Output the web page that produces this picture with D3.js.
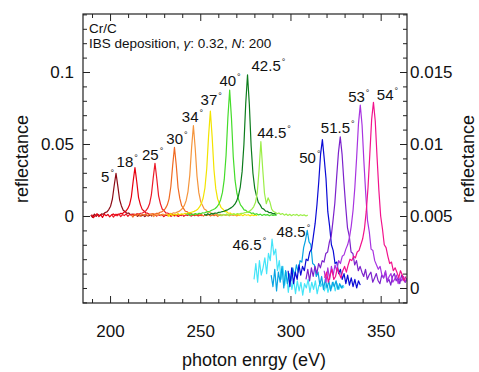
<!DOCTYPE html>
<html>
<head>
<meta charset="utf-8">
<script src="https://cdn.jsdelivr.net/npm/d3@7"></script>
<style>
  html, body { margin: 0; padding: 0; background: #fff; }
  svg { display: block; font-family: "Liberation Sans", Arial, Helvetica, sans-serif; }
</style>
</head>
<body>
<svg id="chart" width="479" height="372"></svg>
<script>
// ---------------- data ----------------
const angleLabels = ["5", "18", "25", "30", "34", "37", "40", "42.5", "44.5",
                     "46.5", "48.5", "50", "51.5", "53", "54"];
const axisSide = ["L","L","L","L","L","L","L","L","L","R","R","R","R","R","R"];
// photon energy (eV) of the first sample of every spectrum; samples every 1 eV
const startEnergy = [189.3, 189.8, 200.9, 211.7, 222.2, 231.6, 242.3, 252.2, 259.6,
                     279.8, 289.3, 298.7, 308.6, 318.7, 319.0];
const energyStep = 1;

const r05 = [0.0006,-0.0009,0.0013,-0.0003,0.0011,0.0002,0.0015,0.0012,0.0024,0.0029,0.0045,0.0068,0.0118,0.0212,0.0297,0.0208,0.0113,0.0070,0.0040,0.0031,0.0018,0.0021,0.0009,0.0013,0.0004,0.0010,-0.0002,0.0008,0.0001,0.0007,-0.0004,0.0006,0.0000,0.0009,-0.0003];
const r18 = [0.0010,-0.0012,0.0004,0.0016,-0.0005,0.0009,-0.0010,0.0013,0.0002,0.0011,-0.0006,0.0008,0.0014,0.0003,0.0012,0.0009,0.0018,0.0016,0.0027,0.0034,0.0051,0.0078,0.0133,0.0240,0.0336,0.0238,0.0128,0.0079,0.0046,0.0035,0.0021,0.0020,0.0011,0.0014,0.0006,0.0011,-0.0001,0.0009,0.0003,0.0010,-0.0004,0.0007,0.0002,0.0010,-0.0002,0.0006,0.0001,0.0008,-0.0003,0.0005,0.0002];
const r25 = [0.0007,-0.0008,0.0012,0.0001,0.0014,-0.0004,0.0010,0.0003,0.0015,-0.0002,0.0011,0.0006,0.0013,0.0008,0.0016,0.0012,0.0019,0.0021,0.0028,0.0037,0.0054,0.0085,0.0146,0.0261,0.0366,0.0259,0.0140,0.0086,0.0049,0.0038,0.0022,0.0021,0.0012,0.0015,0.0007,0.0012,0.0002,0.0010,0.0004,0.0011,-0.0002,0.0008,0.0003,0.0009,-0.0001,0.0007,0.0002,0.0009,0.0000,0.0006,0.0003];
const r30 = [0.0009,-0.0007,0.0013,0.0002,0.0015,-0.0003,0.0011,0.0005,0.0014,0.0001,0.0012,0.0008,0.0017,0.0011,0.0019,0.0018,0.0026,0.0029,0.0038,0.0053,0.0076,0.0119,0.0205,0.0350,0.0477,0.0352,0.0196,0.0120,0.0071,0.0053,0.0033,0.0030,0.0018,0.0019,0.0010,0.0014,0.0004,0.0012,0.0005,0.0011,-0.0001,0.0009,0.0003,0.0010,0.0000,0.0008,0.0002,0.0009,-0.0002,0.0007,0.0003];
const r34 = [0.0006,0.0013,-0.0004,0.0012,0.0003,0.0016,0.0002,0.0013,0.0007,0.0015,0.0009,0.0018,0.0015,0.0022,0.0021,0.0027,0.0032,0.0041,0.0054,0.0074,0.0108,0.0170,0.0284,0.0475,0.0627,0.0470,0.0276,0.0162,0.0101,0.0075,0.0049,0.0041,0.0027,0.0026,0.0016,0.0019,0.0010,0.0014,0.0006,0.0012,0.0003,0.0010,0.0004,0.0011,0.0001,0.0009,0.0003,0.0008,0.0000,0.0007,0.0002];
const r37 = [0.0011,-0.0002,0.0014,0.0004,0.0012,0.0006,0.0017,0.0009,0.0015,0.0012,0.0019,0.0016,0.0023,0.0024,0.0028,0.0032,0.0038,0.0047,0.0063,0.0086,0.0125,0.0196,0.0330,0.0553,0.0729,0.0548,0.0321,0.0190,0.0119,0.0087,0.0058,0.0047,0.0031,0.0030,0.0019,0.0021,0.0011,0.0015,0.0006,0.0013,0.0004,0.0011,0.0002,0.0010,0.0005,0.0009,0.0001,0.0008,0.0003,0.0007,0.0002];
const r40 = [0.0008,0.0015,0.0003,0.0014,0.0007,0.0017,0.0011,0.0019,0.0016,0.0022,0.0021,0.0027,0.0030,0.0033,0.0040,0.0045,0.0052,0.0064,0.0083,0.0113,0.0164,0.0254,0.0420,0.0681,0.0875,0.0678,0.0410,0.0247,0.0158,0.0112,0.0077,0.0062,0.0043,0.0039,0.0027,0.0028,0.0018,0.0021,0.0011,0.0016,0.0007,0.0013,0.0004,0.0011,0.0006,0.0010,0.0002,0.0009,0.0004,0.0008,0.0003];
const r42 = [0.0012,0.0005,0.0016,0.0009,0.0018,0.0013,0.0021,0.0019,0.0025,0.0026,0.0031,0.0033,0.0039,0.0043,0.0051,0.0058,0.0068,0.0082,0.0105,0.0142,0.0203,0.0308,0.0497,0.0780,0.0981,0.0776,0.0486,0.0297,0.0192,0.0138,0.0094,0.0077,0.0054,0.0048,0.0034,0.0033,0.0023,0.0024,0.0015,0.0018,0.0010];
const r44 = [0.0004,0.0013,0.0002,0.0011,0.0006,0.0014,0.0003,0.0012,0.0008,0.0015,0.0010,0.0017,0.0014,0.0019,0.0018,0.0023,0.0025,0.0030,0.0036,0.0047,0.0064,0.0093,0.0161,0.0320,0.0516,0.0330,0.0158,0.0085,0.0126,0.0098,0.0048,0.0031,0.0026,0.0016,0.0021,0.0011,0.0017,0.0006,0.0014,0.0004,0.0012,0.0002,0.0010,0.0005,0.0011,0.0001,0.0009,0.0003,0.0008,0.0000,0.0006];
const r46 = [0.0006,0.0017,0.0004,0.0019,0.0009,0.0014,0.0021,0.0010,0.0024,0.0019,0.0034,0.0023,0.0027,0.0012,0.0019,0.0006,0.0015,0.0002,0.0011,-0.0003,0.0008,-0.0001,0.0006,-0.0004,0.0005,-0.0002,0.0004,-0.0005,0.0003,0.0000,0.0006,-0.0003,0.0004,-0.0001,0.0005,-0.0004,0.0002,0.0001,0.0004,-0.0002,0.0003,-0.0003,0.0002,0.0000,0.0004,-0.0002,0.0003,-0.0001,0.0002,0.0000,0.0001];
const r48 = [0.0009,0.0001,0.0013,-0.0002,0.0011,0.0004,0.0015,0.0000,0.0012,0.0003,0.0010,0.0005,0.0014,0.0008,0.0016,0.0011,0.0019,0.0018,0.0028,0.0033,0.0040,0.0032,0.0030,0.0017,0.0016,0.0008,0.0011,0.0002,0.0008,-0.0001,0.0006,0.0000,0.0005,-0.0002,0.0004,0.0001,0.0005,-0.0001,0.0003,0.0000,0.0002];
const r50 = [0.0012,0.0001,0.0014,0.0003,0.0011,0.0006,0.0016,0.0009,0.0015,0.0012,0.0020,0.0019,0.0025,0.0027,0.0036,0.0045,0.0058,0.0074,0.0093,0.0103,0.0090,0.0076,0.0053,0.0043,0.0030,0.0026,0.0017,0.0018,0.0010,0.0013,0.0006,0.0010,0.0003,0.0009,0.0002,0.0007,0.0001,0.0006,0.0000,0.0005,0.0002];
const r51 = [0.0006,0.0013,0.0005,0.0014,0.0008,0.0015,0.0010,0.0017,0.0014,0.0019,0.0018,0.0024,0.0025,0.0032,0.0036,0.0047,0.0059,0.0077,0.0094,0.0105,0.0093,0.0074,0.0057,0.0042,0.0036,0.0025,0.0024,0.0016,0.0019,0.0012,0.0015,0.0011,0.0008,0.0013,0.0006,0.0009,0.0011,0.0004,0.0007,0.0010,0.0005,0.0003,0.0009,0.0007,0.0011,0.0004,0.0006,0.0002,0.0008,0.0010,0.0005,0.0007,0.0003,0.0009,0.0006,0.0004,0.0007];
const r53 = [0.0012,0.0004,0.0014,0.0006,0.0015,0.0009,0.0016,0.0012,0.0019,0.0017,0.0022,0.0023,0.0027,0.0030,0.0035,0.0043,0.0054,0.0070,0.0091,0.0114,0.0127,0.0113,0.0088,0.0066,0.0047,0.0039,0.0027,0.0026,0.0019,0.0016,0.0013,0.0015,0.0009,0.0007,0.0012,0.0005,0.0008,0.0010,0.0004,0.0006,0.0009,0.0003,0.0007,0.0005,0.0008,0.0004,0.0006];
const r54 = [0.0007,0.0011,0.0004,0.0009,0.0013,0.0006,0.0008,0.0014,0.0010,0.0007,0.0012,0.0015,0.0011,0.0016,0.0020,0.0019,0.0022,0.0021,0.0025,0.0026,0.0030,0.0034,0.0041,0.0053,0.0070,0.0093,0.0117,0.0129,0.0116,0.0091,0.0068,0.0050,0.0041,0.0030,0.0028,0.0022,0.0017,0.0018,0.0012,0.0014,0.0011,0.0007,0.0012,0.0009,0.0005,0.0008];
const seriesValues = [r05, r18, r25, r30, r34, r37, r40, r42, r44, r46, r48, r50, r51, r53, r54];

// label anchor points in data units (energy, reflectance on the series' own axis)
const labelEnergy = [198.6, 209.5, 223.6, 237.1, 245.7, 256.1, 266.5, 287.8, 290.9,
                     277.2, 301.6, 310.8, 326.2, 337.9, 353.8];
const labelValue  = [0.0269, 0.0377, 0.0424, 0.0535, 0.0690, 0.0806, 0.0940, 0.1042, 0.0578,
                     0.00299, 0.00391, 0.00901, 0.01109, 0.01328, 0.01340];

const xMajorTicks = [200, 250, 300, 350];
const xMinorTicks = [190, 210, 220, 230, 240, 260, 270, 280, 290, 310, 320, 330, 340, 360];
const yLeftMajorTicks = [0, 0.05, 0.1];
const yLeftMinorTicks = [-0.06,-0.05,-0.04,-0.03,-0.02,-0.01,0.01,0.02,0.03,0.04,0.06,0.07,0.08,0.09,0.11,0.12,0.13,0.14];
const yRightMajorTicks = [0, 0.005, 0.01, 0.015];
const yRightMinorTicks = [-0.001,0.001,0.002,0.003,0.004,0.006,0.007,0.008,0.009,0.011,0.012,0.013,0.014,0.016,0.017,0.018,0.019];

const xTitle = "photon enrgy (eV)";
const yTitle = "reflectance";

// ---------------- styles ----------------
const seriesColors = ["#8c0a14", "#e6000f", "#ec1a28", "#f06a22", "#f5953c", "#f2e400",
                      "#44dc2a", "#0c7c1c", "#9cee48",
                      "#44e4f8", "#08a4e2", "#0a0ad6", "#7c22cc", "#a834e0", "#f2128c"];

// ---------------- layout ----------------
const plot = {left: 83, right: 407, top: 14, bottom: 303};
const svg = d3.select("#chart");

const x = d3.scaleLinear().domain([185, 364.6]).range([plot.left, plot.right]);
const yL = d3.scaleLinear().domain([-0.06042, 0.14028]).range([plot.bottom, plot.top]);
const yR = d3.scaleLinear().domain([-0.0010417, 0.019028]).range([plot.bottom, plot.top]);

svg.append("defs").append("clipPath").attr("id", "clip")
  .append("rect").attr("x", plot.left).attr("y", plot.top)
  .attr("width", plot.right - plot.left).attr("height", plot.bottom - plot.top);

// ---------------- series ----------------
const gLines = svg.append("g").attr("clip-path", "url(#clip)");
seriesValues.forEach((vals, s) => {
  const ys = axisSide[s] === "L" ? yL : yR;
  const pts = vals.map((v, i) => [startEnergy[s] + i * energyStep, v]);
  const line = d3.line().x(d => x(d[0])).y(d => ys(d[1]));
  gLines.append("path").datum(pts)
    .attr("d", line)
    .attr("fill", "none")
    .attr("stroke", seriesColors[s])
    .attr("stroke-width", 1.2)
    .attr("stroke-linejoin", "round");
});

// ---------------- axes ----------------
function styleAxis(g) {
  g.select(".domain").remove();
  g.selectAll(".tick line").attr("stroke", "#222").attr("stroke-width", 1);
  g.selectAll(".tick text").attr("fill", "#111").attr("font-size", 17)
    .attr("font-family", "'Liberation Sans', Arial, Helvetica, sans-serif");
}
const fmtY = d => d === 0 ? "0" : String(d);

svg.append("g").attr("transform", `translate(0,${plot.bottom})`)
  .call(d3.axisBottom(x).tickValues(xMajorTicks).tickSize(-7).tickPadding(22).tickFormat(d3.format("d")))
  .call(styleAxis);
svg.append("g").attr("transform", `translate(0,${plot.bottom})`)
  .call(d3.axisBottom(x).tickValues(xMinorTicks).tickSize(-4).tickFormat(""))
  .call(styleAxis);
svg.append("g").attr("transform", `translate(0,${plot.top})`)
  .call(d3.axisTop(x).tickValues(xMajorTicks).tickSize(-7).tickFormat(""))
  .call(styleAxis);
svg.append("g").attr("transform", `translate(0,${plot.top})`)
  .call(d3.axisTop(x).tickValues(xMinorTicks).tickSize(-4).tickFormat(""))
  .call(styleAxis);

svg.append("g").attr("transform", `translate(${plot.left},0)`)
  .call(d3.axisLeft(yL).tickValues(yLeftMajorTicks).tickSize(-7).tickPadding(9).tickFormat(fmtY))
  .call(styleAxis);
svg.append("g").attr("transform", `translate(${plot.left},0)`)
  .call(d3.axisLeft(yL).tickValues(yLeftMinorTicks).tickSize(-4).tickFormat(""))
  .call(styleAxis);

svg.append("g").attr("transform", `translate(${plot.right},0)`)
  .call(d3.axisRight(yR).tickValues(yRightMajorTicks).tickSize(-7).tickPadding(3).tickFormat(fmtY))
  .call(styleAxis);
svg.append("g").attr("transform", `translate(${plot.right},0)`)
  .call(d3.axisRight(yR).tickValues(yRightMinorTicks).tickSize(-4).tickFormat(""))
  .call(styleAxis);

// frame
svg.append("rect").attr("x", plot.left).attr("y", plot.top)
  .attr("width", plot.right - plot.left).attr("height", plot.bottom - plot.top)
  .attr("fill", "none").attr("stroke", "#222").attr("stroke-width", 1.2);

// ---------------- titles ----------------
svg.append("text").attr("x", 254).attr("y", 366).attr("text-anchor", "middle")
  .attr("font-size", 18).attr("fill", "#111").text(xTitle);
svg.append("text").attr("transform", "translate(28,159) rotate(-90)").attr("text-anchor", "middle")
  .attr("font-size", 18).attr("fill", "#111").text(yTitle);
svg.append("text").attr("transform", "translate(474,159) rotate(-90)").attr("text-anchor", "middle")
  .attr("font-size", 18).attr("fill", "#111").text(yTitle);

// annotation
svg.append("text").attr("x", 89).attr("y", 33).attr("font-size", 13.5).attr("fill", "#111").text("Cr/C");
const ann = svg.append("text").attr("x", 89).attr("y", 47.5).attr("font-size", 13.5).attr("fill", "#111");
ann.append("tspan").text("IBS deposition, ");
ann.append("tspan").attr("font-style", "italic").text("γ");
ann.append("tspan").text(": 0.32, ");
ann.append("tspan").attr("font-style", "italic").text("N");
ann.append("tspan").text(": 200");

// peak labels
angleLabels.forEach((a, s) => {
  const ys = axisSide[s] === "L" ? yL : yR;
  const t = svg.append("text")
    .attr("x", x(labelEnergy[s])).attr("y", ys(labelValue[s]) + 5)
    .attr("text-anchor", "middle").attr("font-size", 15).attr("fill", "#111");
  t.append("tspan").text(a);
  t.append("tspan").attr("font-size", 9).attr("dx", 1).attr("dy", -6).text("°");
});
</script>
</body>
</html>
